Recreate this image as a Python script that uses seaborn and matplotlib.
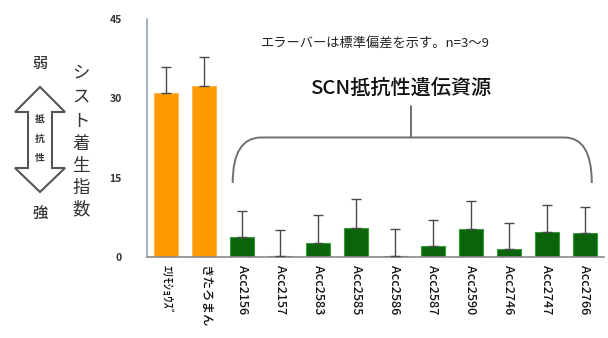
import matplotlib
matplotlib.use("Agg")
import matplotlib.pyplot as plt
from matplotlib.path import Path
from matplotlib.patches import PathPatch, Polygon
import numpy as np
import pandas as pd
import seaborn as sns

# Cultivars / accessions and cyst index (mean, SD)
varieties = ["ｴﾘﾓｼｮｳｽﾞ", "きたろまん", "Acc2156", "Acc2157", "Acc2583", "Acc2585",
             "Acc2586", "Acc2587", "Acc2590", "Acc2746", "Acc2747", "Acc2766"]
cyst_index = [31.1, 32.4, 3.8, 0.2, 2.6, 5.5, 0.2, 2.0, 5.3, 1.5, 4.8, 4.5]
cyst_sd = [4.9, 5.4, 4.9, 4.9, 5.4, 5.5, 5.1, 5.0, 5.3, 4.9, 5.1, 5.0]
group = ["標準品種", "標準品種"] + ["SCN抵抗性遺伝資源"] * 10

y_ticks = [0, 15, 30, 45]

sns.set_theme(style="white")
plt.rcParams["font.family"] = ["Noto Sans CJK JP", "DejaVu Sans"]

W, H = 608, 338
fig = plt.figure(figsize=(W / 100, H / 100), dpi=100)
ax = fig.add_axes([147 / W, 1 - 257 / H, (604 - 147) / W, (257 - 19) / H])

df = pd.DataFrame({"品種": varieties, "指数": cyst_index, "群": group})
palette = {"標準品種": "#FF9900", "SCN抵抗性遺伝資源": "#0A640A"}
sns.barplot(data=df, x="品種", y="指数", hue="群", palette=palette, dodge=False,
            width=0.63, errorbar=None, legend=False, saturation=1, ax=ax)
for patch, g in zip(ax.patches, group):
    patch.set_edgecolor("#FFB84D" if g == "標準品種" else "#3A9A3A")
    patch.set_linewidth(0.8)

xpos = np.arange(len(varieties))
ax.errorbar(xpos, cyst_index, yerr=[np.zeros(len(cyst_sd)), cyst_sd], fmt="none",
            ecolor="#4a4a4a", elinewidth=1.0, capsize=3.6, capthick=1.0, zorder=3)

ax.set_xlim(-0.5, len(varieties) - 0.5)
ax.set_ylim(0, 45)
ax.set_yticks(y_ticks)
ax.set_yticklabels([str(t) for t in y_ticks], fontsize=7.5, fontweight="bold", color="#333333")
ax.set_xticks(xpos)
ax.set_xticklabels(varieties, rotation=-90, fontsize=9, fontweight="medium", color="#111111",
                   va="top", ha="center")
ax.set_xticks(np.arange(0.5, len(varieties) - 0.5, 1), minor=True)
ax.tick_params(axis="x", which="major", length=0, pad=6)
ax.tick_params(axis="x", which="minor", direction="in", length=3, color="#888888", width=0.8)
ax.tick_params(axis="y", direction="in", length=3, pad=18, color="#8899aa", width=0.8)
ax.set_xlabel("")
ax.set_ylabel("")
for s in ["top", "right"]:
    ax.spines[s].set_visible(False)
ax.spines["left"].set_color("#93a6bb")
ax.spines["left"].set_linewidth(1.2)
ax.spines["bottom"].set_color("#8a8a8a")
ax.spines["bottom"].set_linewidth(1.2)

# Brace grouping the resistant accessions
x0, x1, xm = 1.75, 11.18, 6.44
yb, yh, yt = 14.0, 22.6, 28.5
verts = [(x0, yb), (x0, yh), (x0 + 0.75, yh), (x1 - 0.72, yh), (x1, yh), (x1, yb)]
codes = [Path.MOVETO, Path.CURVE3, Path.CURVE3, Path.LINETO, Path.CURVE3, Path.CURVE3]
ax.add_patch(PathPatch(Path(verts, codes), fill=False, edgecolor="#707070", lw=1.4,
                       clip_on=False))
ax.plot([xm, xm], [yh, yt], color="#707070", lw=1.4, clip_on=False)

# Overlay in pixel coordinates for the annotations
ov = fig.add_axes([0, 0, 1, 1], zorder=5)
ov.set_xlim(0, W)
ov.set_ylim(H, 0)
ov.axis("off")
ov.patch.set_alpha(0)

ov.text(375, 44, "エラーバーは標準偏差を示す。n=3～9", fontsize=9.5, color="#222222",
        ha="center", va="center")
ov.text(401, 88, "SCN抵抗性遺伝資源", fontsize=14.5, fontweight="medium", color="#111111",
        ha="center", va="center")

# Double arrow: resistance scale
arrow = [(40, 87), (65, 112), (52, 112), (52, 168), (65, 168), (40, 192),
         (15, 168), (28, 168), (28, 112), (15, 112)]
ov.add_patch(Polygon(arrow, closed=True, facecolor="white", edgecolor="#555555", lw=1.5))
for ch, yy in zip("抵抗性", [119, 139, 158]):
    ov.text(40, yy, ch, fontsize=7, fontweight="bold", color="#333333", ha="center", va="center")
ov.text(40, 63, "弱", fontsize=11, fontweight="medium", color="#333333", ha="center", va="center")
ov.text(40, 213, "強", fontsize=11, fontweight="medium", color="#333333", ha="center", va="center")

for ch, yy in zip("シスト着生指数", [73, 97, 121, 144, 166, 188, 209]):
    ov.text(81, yy, ch, fontsize=12.5, color="#333333", ha="center", va="center")

fig.savefig("out.png", dpi=100)
